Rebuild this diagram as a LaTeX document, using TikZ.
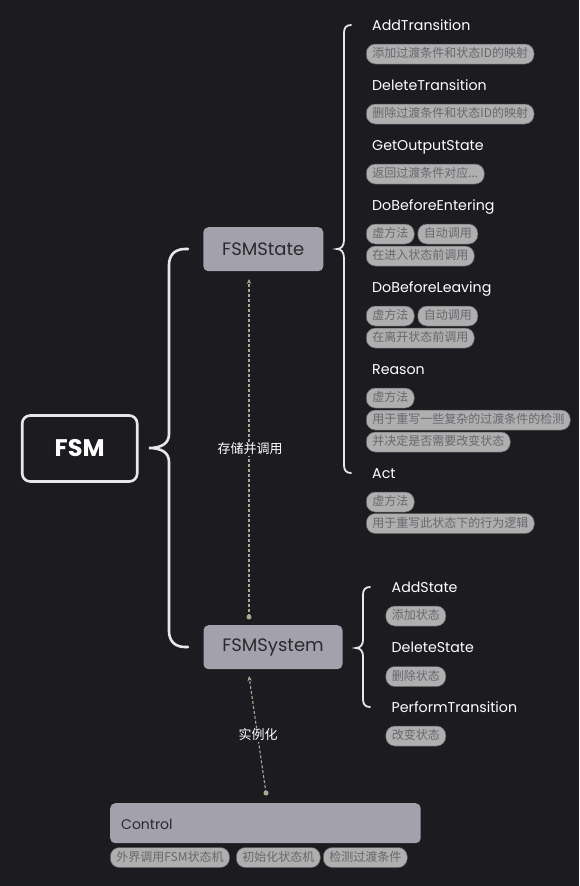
\documentclass[tikz,border=0pt]{standalone}
\usepackage{fontspec}
\setmainfont{Poppins}
\newfontfamily\cjk{Noto Sans CJK SC}
\usetikzlibrary{arrows.meta}
\definecolor{bg}{HTML}{1C1B20}
\definecolor{boxfill}{HTML}{A3A2AC}
\definecolor{boxtext}{HTML}{2A292E}
\definecolor{tagfill}{HTML}{AFAFB0}
\definecolor{tagborder}{HTML}{5A5A5E}
\definecolor{tagtext}{HTML}{68686D}
\definecolor{dashcol}{HTML}{ADA892}
\definecolor{bracecol}{HTML}{E8E8E8}
\tikzset{
  childlabel/.style={anchor=base west, inner sep=0pt, text=white, font=\fontsize{14.2}{16}\selectfont},
  tag/.style={anchor=west, fill=tagfill, draw=tagborder, line width=0.5pt, rounded corners=9pt,
    inner xsep=6pt, inner ysep=0pt, minimum height=20pt, text height=9.5pt, text depth=2.5pt,
    text=tagtext, font=\cjk\fontsize{12}{12}\selectfont},
  topicbox/.style={fill=boxfill, rounded corners=5pt, text=boxtext, inner sep=0pt},
  bracebig/.style={draw=bracecol, line width=2.6pt, line cap=round},
  bracesmall/.style={draw=bracecol, line width=1.8pt, line cap=round},
  dashconn/.style={draw=dashcol, line width=1.1pt, dash pattern=on 3pt off 2pt,
    -{Stealth[length=5pt,width=4.5pt]}},
  conndot/.style={fill=dashcol, circle, inner sep=0pt, minimum size=5pt},
  connlabel/.style={fill=bg, text=white, inner sep=1pt, font=\cjk\fontsize{13}{13}\selectfont}
}
\begin{document}
\begin{tikzpicture}[x=1pt,y=-1pt]
\fill[bg] (0,0) rectangle (579,886);
\useasboundingbox (0,0) rectangle (579,886);

% main topic
\node[draw=bracecol, line width=2.6pt, rounded corners=8pt, minimum width=115pt, minimum height=66pt,
  text=white, font=\bfseries\fontsize{24}{26}\selectfont, inner sep=0pt] (fsm) at (79.7,448.5) {FSM};

% sub topics
\node[topicbox, minimum width=120pt, minimum height=44pt, font=\fontsize{18}{20}\selectfont] (state) at (263.3,249.2) {FSMState};
\node[topicbox, minimum width=139pt, minimum height=44pt, font=\fontsize{18}{20}\selectfont] (sys) at (273,647.2) {FSMSystem};

% big brace
\draw[bracebig] (188,249) -- (185,249) .. controls (175,249) and (169,255) .. (169,265) -- (169,434)
  .. controls (169,443) and (162,448) .. (149,448) .. controls (162,448) and (169,453) .. (169,462)
  -- (169,631) .. controls (169,641) and (175,647) .. (185,647) -- (188,647);

% FSMState brace
\draw[bracesmall] (351,25) .. controls (346,25) and (344,28) .. (344,33) -- (344,240)
  .. controls (344,246) and (341,249) .. (337,249) .. controls (341,249) and (344,252) .. (344,258)
  -- (344,465) .. controls (344,470) and (346,473) .. (351,473);

% FSMSystem brace
\draw[bracesmall] (370,587) .. controls (365,587) and (363,590) .. (363,595) -- (363,640)
  .. controls (363,645) and (360,648) .. (356,648) .. controls (360,648) and (363,651) .. (363,656)
  -- (363,699) .. controls (363,704) and (365,707) .. (370,707);

% FSMState children
\node[childlabel] (c1) at (372,30) {AddTransition};
\node[tag] (t1) at (366,54) {添加过渡条件和状态ID的映射};
\node[childlabel] (c2) at (372,90.5) {DeleteTransition};
\node[tag] (t2) at (366,114) {删除过渡条件和状态ID的映射};
\node[childlabel] (c3) at (372,150) {GetOutputState};
\node[tag] (t3) at (366,174) {返回过渡条件对应...};
\node[childlabel] (c4) at (372,210.5) {DoBeforeEntering};
\node[tag] (t4a) at (366,234) {虚方法};
\node[tag] (t4b) at (417.5,234) {自动调用};
\node[tag] (t4c) at (366,256) {在进入状态前调用};
\node[childlabel] (c5) at (372,292) {DoBeforeLeaving};
\node[tag] (t5a) at (366,316) {虚方法};
\node[tag] (t5b) at (417.5,316) {自动调用};
\node[tag] (t5c) at (366,338) {在离开状态前调用};
\node[childlabel] (c6) at (372,374) {Reason};
\node[tag] (t6a) at (366,398) {虚方法};
\node[tag] (t6b) at (366,420) {用于重写一些复杂的过渡条件的检测};
\node[tag] (t6c) at (366,442) {并决定是否需要改变状态};
\node[childlabel] (c7) at (372,478) {Act};
\node[tag] (t7a) at (366,502) {虚方法};
\node[tag] (t7b) at (366,523.5) {用于重写此状态下的行为逻辑};

% FSMSystem children
\node[childlabel] (s1) at (391.5,592) {AddState};
\node[tag] (u1) at (385.5,616) {添加状态};
\node[childlabel] (s2) at (391.5,652) {DeleteState};
\node[tag] (u2) at (385.5,676.5) {删除状态};
\node[childlabel] (s3) at (391.5,712) {PerformTransition};
\node[tag] (u3) at (385.5,736) {改变状态};

% Control
\node[topicbox, minimum width=310.5pt, minimum height=40pt, anchor=north west] (ctrl) at (110,803) {};
\node[anchor=base west, inner sep=0pt, text=boxtext, font=\fontsize{14}{16}\selectfont] (ctrltxt) at (121,829) {Control};
\node[tag] (k1) at (110,857.5) {外界调用FSM状态机};
\node[tag] (k2) at (236,857.5) {初始化状态机};
\node[tag] (k3) at (323,857.5) {检测过渡条件};

% relationship connectors
\coordinate (r1s) at (249,617);
\coordinate (r1e) at (249,279);
\coordinate (r2s) at (266,793);
\coordinate (r2e) at (249,676);
\draw[dashconn] (r1s) -- (r1e);
\draw[dashconn] (r2s) -- (r2e);
\node[conndot] (d1) at (r1s) {};
\node[conndot] (d2) at (r2s) {};
\node[connlabel] (l1) at (250,449) {存储并调用};
\node[connlabel] (l2) at (258,735) {实例化};
\end{tikzpicture}
\end{document}
